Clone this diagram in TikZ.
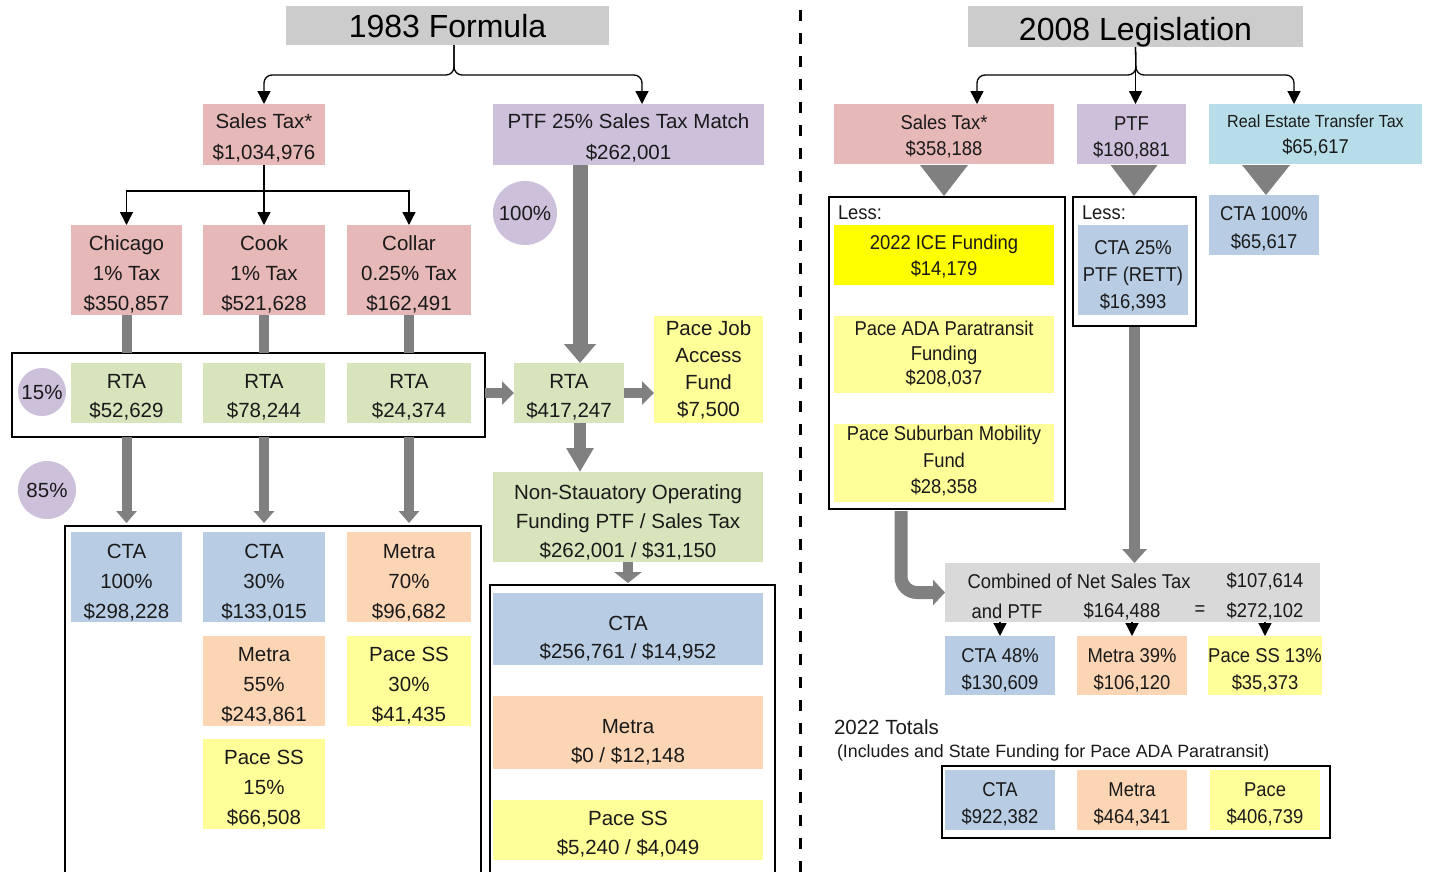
\documentclass[tikz,border=0pt]{standalone}
\usepackage{fontspec}
\setmainfont{Liberation Sans}
\newfontfamily\narrowfont[FakeStretch=0.92]{Liberation Sans}
\usetikzlibrary{arrows.meta,calc}
\definecolor{pinkc}{HTML}{E6B8B7}
\definecolor{purplec}{HTML}{CCC0DA}
\definecolor{greenc}{HTML}{D7E4BC}
\definecolor{bluec}{HTML}{B8CCE4}
\definecolor{orangec}{HTML}{FCD5B4}
\definecolor{yellowc}{HTML}{FFFF99}
\definecolor{brightyellow}{HTML}{FFFF00}
\definecolor{titlegray}{HTML}{CCCCCC}
\definecolor{combgray}{HTML}{D9D9D9}
\definecolor{lightbluec}{HTML}{B7DEE8}
\definecolor{arrgray}{HTML}{808080}
\definecolor{txt}{HTML}{1A1A1A}
\newcommand{\fL}{\fontsize{20.5}{30}\selectfont}
\newcommand{\fR}{\narrowfont\fontsize{20}{27}\selectfont}
\tikzset{
  bx/.style={inner sep=0pt, outer sep=0pt, align=center, text=txt, font=\fL},
  rbx/.style={bx, font=\fR},
  tb/.style={text depth=0pt, text height=#1},
  frame/.style={draw=black, line width=1.8pt, inner sep=0pt, outer sep=0pt},
  pct/.style={circle, fill=purplec, inner sep=0pt, text=txt, font=\fontsize{20.5}{24}\selectfont},
  ttl/.style={fill=titlegray, inner sep=0pt, outer sep=0pt, text=black, font=\fontsize{32}{36}\selectfont},
  conn/.style={draw=black, line width=1.3pt, -{Triangle[width=13pt,length=13pt]}},
  gbar/.style={draw=arrgray, line width=#1},
}
\begin{document}
\begin{tikzpicture}[x=1pt,y=-1pt]
\useasboundingbox (0,0) rectangle (1432,871);

% ---------- titles ----------
\node[ttl, minimum width=323pt, minimum height=39pt, text depth=0pt] (t1) at (447.5,25.5) {1983 Formula};
\node[ttl, minimum width=335pt, minimum height=41pt, text depth=0pt, text height=27pt] (t2) at (1135.5,26.5) {2008 Legislation};

% divider
\coordinate (dtop) at (800,10);
\coordinate (dbot) at (800,873);
\draw[line width=3pt, dash pattern=on 11pt off 12pt] (dtop) -- (dbot);

% ---------- 1983 left ----------
\node[bx, fill=pinkc, minimum width=122pt, minimum height=61pt, font=\fontsize{20.5}{31}\selectfont, tb=50.5pt] (sales1) at (264,134.5) {Sales Tax*\\\$1,034,976};
\node[bx, fill=purplec, minimum width=271pt, minimum height=61pt, font=\fontsize{20.5}{31}\selectfont, tb=50.5pt] (ptf1) at (628.5,134.5) {PTF 25\% Sales Tax Match\\\$262,001};

\node[bx, fill=pinkc, minimum width=111pt, minimum height=90pt, tb=81.5pt] (chi) at (126.5,270) {Chicago\\1\% Tax\\\$350,857};
\node[bx, fill=pinkc, minimum width=122pt, minimum height=90pt, tb=81.5pt] (cook) at (264,270) {Cook\\1\% Tax\\\$521,628};
\node[bx, fill=pinkc, minimum width=124pt, minimum height=90pt, tb=81.5pt] (collar) at (409,270) {Collar\\0.25\% Tax\\\$162,491};

\node[frame, minimum width=473pt, minimum height=84pt] (rowbox) at (248.5,395) {};
\node[pct, minimum size=48pt] (c15) at (42,392) {15\%};
\node[bx, fill=greenc, minimum width=111pt, minimum height=60pt, font=\fontsize{20.5}{29}\selectfont, tb=48.5pt] (rta1) at (126.5,393) {RTA\\\$52,629};
\node[bx, fill=greenc, minimum width=122pt, minimum height=60pt, font=\fontsize{20.5}{29}\selectfont, tb=48.5pt] (rta2) at (264,393) {RTA\\\$78,244};
\node[bx, fill=greenc, minimum width=124pt, minimum height=60pt, font=\fontsize{20.5}{29}\selectfont, tb=48.5pt] (rta3) at (409,393) {RTA\\\$24,374};

\node[pct, minimum size=58pt] (c85) at (47,490) {85\%};

\node[frame, minimum width=416pt, minimum height=354pt] (botbox) at (273,703) {};
\node[bx, fill=bluec, minimum width=111pt, minimum height=90pt, tb=82.5pt] (cta1) at (126.5,577) {CTA\\100\%\\\$298,228};
\node[bx, fill=bluec, minimum width=122pt, minimum height=90pt, tb=82.5pt] (cta2) at (264,577) {CTA\\30\%\\\$133,015};
\node[bx, fill=orangec, minimum width=124pt, minimum height=90pt, tb=82.5pt] (met1) at (409,577) {Metra\\70\%\\\$96,682};
\node[bx, fill=orangec, minimum width=122pt, minimum height=90pt, tb=81.5pt] (met2) at (264,681) {Metra\\55\%\\\$243,861};
\node[bx, fill=yellowc, minimum width=124pt, minimum height=90pt, tb=81.5pt] (pace1) at (409,681) {Pace SS\\30\%\\\$41,435};
\node[bx, fill=yellowc, minimum width=122pt, minimum height=90pt, tb=81.5pt] (pace2) at (264,784) {Pace SS\\15\%\\\$66,508};

% ---------- 1983 middle ----------
\node[pct, minimum size=64pt] (c100) at (525,213) {100\%};
\node[bx, fill=greenc, minimum width=110pt, minimum height=60pt, font=\fontsize{20.5}{29}\selectfont, tb=48.5pt] (rta4) at (569,393) {RTA\\\$417,247};
\node[bx, fill=yellowc, minimum width=109pt, minimum height=107pt, font=\fontsize{20.5}{27}\selectfont] (pjob) at (708.5,369.5) {Pace Job\\Access\\Fund\\\$7,500};
\node[bx, fill=greenc, minimum width=270pt, minimum height=90pt, font=\fontsize{20.5}{29}\selectfont, tb=81.5pt] (nonstat) at (628,517) {Non-Stauatory Operating\\Funding PTF / Sales Tax\\\$262,001 / \$31,150};
\node[frame, minimum width=285pt, minimum height=295pt] (midbox) at (632.5,732.5) {};
\node[bx, fill=bluec, minimum width=270pt, minimum height=72pt, font=\fontsize{20.5}{28}\selectfont, tb=59.5pt] (cta3) at (628,629) {CTA\\\$256,761 / \$14,952};
\node[bx, fill=orangec, minimum width=270pt, minimum height=73pt, font=\fontsize{20.5}{29}\selectfont, tb=60.5pt] (met3) at (628,732.5) {Metra\\\$0 / \$12,148};
\node[bx, fill=yellowc, minimum width=270pt, minimum height=60pt, font=\fontsize{20.5}{29}\selectfont, tb=48.5pt] (pace3) at (628,830) {Pace SS\\\$5,240 / \$4,049};

% ---------- 1983 connectors ----------
\coordinate (j1) at (454,75);
\coordinate (j1s) at (454,45);
\draw[conn, rounded corners=8pt] (j1s) -- (j1) -| (sales1.north);
\draw[conn, rounded corners=8pt] (j1s) -- (j1) -| ($(ptf1.north)+(13.5,0)$);

\coordinate (sj) at (264,191);
\draw[conn] (sales1.south) -- (sj) -| (chi.north);
\draw[conn] (sales1.south) -- (cook.north);
\draw[conn] (sj) -| (collar.north);

\draw[gbar=10pt] (chi.south) -- (chi.south |- rowbox.north);
\draw[gbar=10pt] (cook.south) -- (cook.south |- rowbox.north);
\draw[gbar=10pt] (collar.south) -- (collar.south |- rowbox.north);

\draw[gbar=10pt, -{Triangle[width=20pt,length=12pt]}, shorten >=3pt] (rta1.south |- rowbox.south) -- (rta1.south |- botbox.north);
\draw[gbar=10pt, -{Triangle[width=20pt,length=12pt]}, shorten >=3pt] (rta2.south |- rowbox.south) -- (rta2.south |- botbox.north);
\draw[gbar=10pt, -{Triangle[width=20pt,length=12pt]}, shorten >=3pt] (rta3.south |- rowbox.south) -- (rta3.south |- botbox.north);

\coordinate (pa) at ($(rta4.north)+(11,0)$);
\draw[gbar=15pt, -{Triangle[width=31pt,length=19pt]}] (pa |- ptf1.south) -- (pa);
\draw[gbar=10pt, -{Triangle[width=23pt,length=12pt]}] (rowbox.east |- rta4.west) -- (rta4.west);
\draw[gbar=10pt, -{Triangle[width=23pt,length=12pt]}] (rta4.east) -- (pjob.west |- rta4.east);
\draw[gbar=12pt, -{Triangle[width=26pt,length=24pt]}] (pa |- rta4.south) -- (pa |- nonstat.north);
\draw[gbar=10pt, -{Triangle[width=27pt,length=11pt]}, shorten >=2pt] (nonstat.south) -- (nonstat.south |- midbox.north);

% ---------- 2008 right ----------
\node[rbx, fill=pinkc, minimum width=220pt, minimum height=60pt, font=\narrowfont\fontsize{20}{26}\selectfont, tb=43pt] (st2) at (944,134) {Sales Tax*\\\$358,188};
\node[rbx, fill=purplec, minimum width=109pt, minimum height=60pt, font=\narrowfont\fontsize{20}{26}\selectfont, tb=45pt] (ptf2) at (1131.5,134) {PTF\\\$180,881};
\node[rbx, fill=lightbluec, minimum width=213pt, minimum height=60pt, font=\narrowfont\fontsize{20}{26}\selectfont, text depth=-2pt] (ret) at (1315.5,134) {{\fontsize{17.5}{26}\selectfont Real Estate Transfer Tax}\\\$65,617};

\node[frame, minimum width=236pt, minimum height=312pt] (less1) at (947,353) {};
\node[rbx, anchor=west] (lessA) at (838,213) {Less:};
\node[rbx, fill=brightyellow, minimum width=220pt, minimum height=60pt, font=\narrowfont\fontsize{20}{26}\selectfont, text depth=-3pt] (ice) at (944,255) {2022 ICE Funding\\\$14,179};
\node[rbx, fill=yellowc, minimum width=220pt, minimum height=77pt, font=\narrowfont\fontsize{20}{24.5}\selectfont] (ada) at (944,354.5) {Pace ADA Paratransit\\Funding\\\$208,037};
\node[rbx, fill=yellowc, minimum width=220pt, minimum height=78pt, font=\narrowfont\fontsize{20}{26.5}\selectfont, text depth=6pt] (psm) at (944,463) {Pace Suburban Mobility\\Fund\\\$28,358};

\node[frame, minimum width=123pt, minimum height=129pt] (less2) at (1134.5,261.5) {};
\node[rbx, anchor=west] (lessB) at (1082,213) {Less:};
\node[rbx, fill=bluec, minimum width=110pt, minimum height=90pt, tb=77pt] (cta25) at (1133,270) {CTA 25\%\\PTF (RETT)\\\$16,393};
\node[rbx, fill=bluec, minimum width=110pt, minimum height=60pt, font=\narrowfont\fontsize{20}{28}\selectfont, tb=47pt] (cta100) at (1264,225) {CTA 100\%\\\$65,617};

\node[rbx, fill=combgray, minimum width=375pt, minimum height=59pt] (comb) at (1132.5,592.5) {};
\node[rbx] (cb1) at (1079,581) {Combined of Net Sales Tax};
\node[rbx] (cb2) at (1265,581) {\$107,614};
\node[rbx] (cb3) at (1007,611) {and PTF};
\node[rbx] (cb4) at (1122,611) {\$164,488};
\node[rbx] (cb5) at (1200,611) {=};
\node[rbx] (cb6) at (1265,611) {\$272,102};

\node[rbx, fill=bluec, minimum width=110pt, minimum height=59pt, tb=48pt] (cta48) at (1000,665.5) {CTA 48\%\\\$130,609};
\node[rbx, fill=orangec, minimum width=110pt, minimum height=59pt, tb=48pt] (met39) at (1132,665.5) {Metra 39\%\\\$106,120};
\node[rbx, fill=yellowc, minimum width=110pt, minimum height=59pt, tb=48pt] (pace13) at (1265,665.5) {Pace SS 13\%\\\$35,373};

\node[bx, anchor=west, font=\fontsize{20.5}{24}\selectfont] (tot) at (834,727) {2022 Totals};
\node[bx, anchor=west, font=\fontsize{17.8}{22}\selectfont] (totnote) at (837,753) {(Includes and State Funding for Pace ADA Paratransit)};

\node[frame, line width=2.2pt, minimum width=388pt, minimum height=72pt] (totbox) at (1136,802) {};
\node[rbx, fill=bluec, minimum width=110pt, minimum height=60pt, tb=46pt] (ctaT) at (1000,800) {CTA\\\$922,382};
\node[rbx, fill=orangec, minimum width=110pt, minimum height=60pt, tb=46pt] (metT) at (1132,800) {Metra\\\$464,341};
\node[rbx, fill=yellowc, minimum width=110pt, minimum height=60pt, tb=46pt] (paceT) at (1265,800) {Pace\\\$406,739};

% ---------- 2008 connectors ----------
\coordinate (j2) at (1136,75);
\draw[conn, rounded corners=8pt] (t2.south) -- (j2) -| ($(st2.north)+(33,0)$);
\draw[conn] (t2.south) -- (t2.south |- ptf2.north);
\draw[conn, rounded corners=8pt] (t2.south) -- (j2) -| ($(ret.north)+(-21.5,0)$);

\fill[arrgray] ($(st2.south)+(-24,1)$) -- ($(st2.south)+(24,1)$) -- ($(st2.south)+(0,32)$) -- cycle;
\fill[arrgray] ($(ptf2.south)+(-21,1)$) -- ($(ptf2.south)+(26,1)$) -- ($(ptf2.south)+(2.5,32)$) -- cycle;
\fill[arrgray] ($(cta100.north)+(-22,-30)$) -- ($(cta100.north)+(26,-30)$) -- ($(cta100.north)+(2,0)$) -- cycle;

\draw[gbar=11pt, -{Triangle[width=24pt,length=14pt]}, shorten <=1pt] (less2.south) -- (less2.south |- comb.north);
\coordinate (ca) at ($(less1.south)+(-46,2)$);
\draw[gbar=13pt, rounded corners=16pt, -{Triangle[width=25pt,length=12pt]}] (ca) |- (comb.west);

\draw[conn] (cta48.north |- comb.south) -- (cta48.north);
\draw[conn] (met39.north |- comb.south) -- (met39.north);
\draw[conn] (pace13.north |- comb.south) -- (pace13.north);
\end{tikzpicture}
\end{document}
